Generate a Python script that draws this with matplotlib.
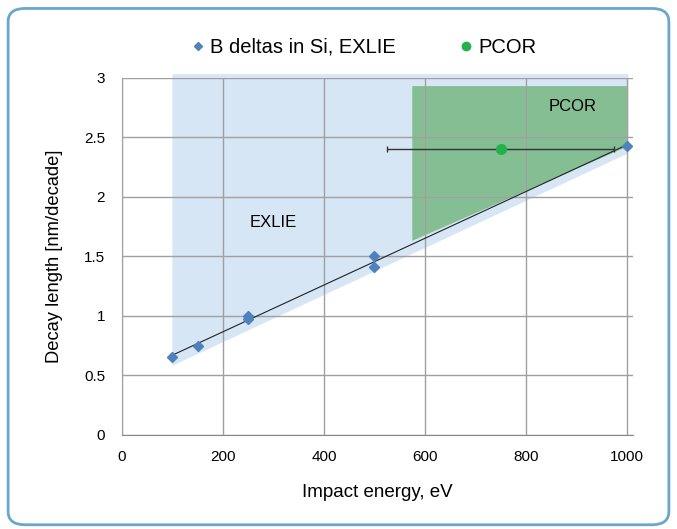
import numpy as np
import matplotlib
matplotlib.use('Agg')
from matplotlib import pyplot as plt
from matplotlib.patches import Polygon, FancyBboxPatch
from matplotlib.lines import Line2D

plt.rcParams['font.family'] = ['Liberation Sans', 'DejaVu Sans']

# measured data
energy = [100, 150, 250, 250, 500, 500, 1000]
decay = [0.65, 0.75, 1.0, 0.97, 1.5, 1.41, 2.43]

pcor_x = [750]
pcor_y = [2.4]
pcor_xerr = [225]

# shaded regions
exlie_x = [100, 1003, 1003, 1000, 100]
exlie_y = [3.03, 3.03, 2.45, 2.36, 0.58]
pcor_reg_x = [575, 1000, 1000, 575]
pcor_reg_y = [2.93, 2.93, 2.42, 1.63]

xticks = [0, 200, 400, 600, 800, 1000]
yticks = [0, 0.5, 1, 1.5, 2, 2.5, 3]

fig = plt.figure(figsize=(6.77, 5.29), dpi=100)
border = FancyBboxPatch((0.012, 0.008), 0.976, 0.976, boxstyle='round,pad=0,rounding_size=0.025',
                        transform=fig.transFigure, fill=False, edgecolor='#6BA6CC', linewidth=2)
fig.patches.append(border)

ax = fig.add_axes([0.180, 0.178, 0.755, 0.675])

ax.add_patch(Polygon(np.column_stack([exlie_x, exlie_y]), closed=True, facecolor='#D6E6F5',
                     edgecolor='none', zorder=1, clip_on=False))
ax.add_patch(Polygon(np.column_stack([pcor_reg_x, pcor_reg_y]), closed=True, facecolor='#86BE94',
                     edgecolor='none', zorder=1.5))

# linear fit through the EXLIE points
k, b = np.polyfit(energy, decay, 1)
fx = np.array([100, 1000])
ax.plot(fx, k * fx + b, color='#222222', linewidth=0.8, zorder=3)

ax.plot(energy, decay, linestyle='none', marker='D', markersize=5.5, color='#4F81BD', zorder=4)
ax.errorbar(pcor_x, pcor_y, xerr=pcor_xerr, fmt='o', markersize=7, color='#22B14C',
            ecolor='#333333', elinewidth=1, capsize=2.5, zorder=4)

ax.text(300, 1.78, 'EXLIE', fontsize=12, ha='center', va='center', zorder=5)
ax.text(893, 2.76, 'PCOR', fontsize=12, ha='center', va='center', zorder=5)

ax.set_xlim(0, 1012)
ax.set_ylim(0, 3)
ax.set_xticks(xticks)
ax.set_yticks(yticks)
ax.set_yticklabels(['0', '0.5', '1', '1.5', '2', '2.5', '3'])
ax.grid(True, color='#A0A0A0', linewidth=1, zorder=2)
ax.set_axisbelow(False)
for s in ['top', 'right']:
    ax.spines[s].set_visible(False)
for s in ['left', 'bottom']:
    ax.spines[s].set_color('#888888')
ax.tick_params(length=0, labelsize=11, pad=11)
ax.tick_params(axis='y', pad=12)
ax.set_xlabel('Impact energy, eV', fontsize=13.5, labelpad=14)
ax.set_ylabel('Decay length [nm/decade]', fontsize=13.2, labelpad=15)

handles = [Line2D([], [], linestyle='none', marker='D', markersize=4.5, color='#4F81BD'),
           Line2D([], [], linestyle='none', marker='o', markersize=6, color='#22B14C')]
fig.legend(handles, ['B deltas in Si, EXLIE', 'PCOR'], loc='center',
           bbox_to_anchor=(362 / 677, 0.911), ncol=2, frameon=False,
           fontsize=14.5, handletextpad=0.1, columnspacing=3.0, handlelength=1)

fig.savefig('out.png', dpi=100)
